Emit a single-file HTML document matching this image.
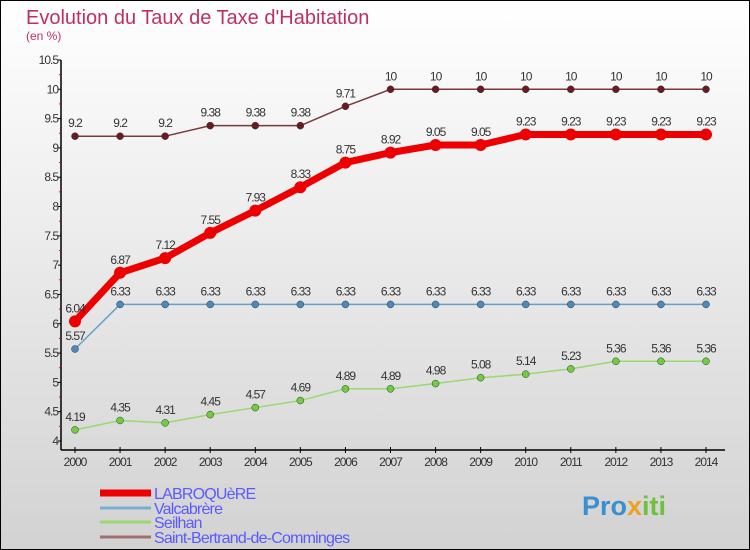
<!DOCTYPE html>
<html><head><meta charset="utf-8"><style>
body{margin:0}
svg{display:block;font-family:"Liberation Sans",sans-serif}
</style></head><body>
<svg id="c" width="750" height="550" xmlns="http://www.w3.org/2000/svg">
<defs><linearGradient id="bg" x1="0" y1="0" x2="0" y2="1"><stop offset="0" stop-color="#ffffff"/><stop offset="1" stop-color="#d2d2d2"/></linearGradient></defs>
<rect x="0.5" y="0.5" width="749" height="549" fill="url(#bg)" stroke="#000"/>
<text x="26" y="24" font-size="20" fill="#c0305e">Evolution du Taux de Taxe d'Habitation</text>
<text x="26" y="40" font-size="12" fill="#c0305e">(en %)</text>
<g id="axes"></g><g id="series"></g><g id="legend"></g>
<text x="582" y="515" font-size="27" font-weight="bold" fill="#3a8fd0">Pro<tspan fill="#f0a020">x</tspan><tspan fill="#70c040">iti</tspan></text>
</svg>
<script>
const years=[2000,2001,2002,2003,2004,2005,2006,2007,2008,2009,2010,2011,2012,2013,2014];
const yTicks=[4,4.5,5,5.5,6,6.5,7,7.5,8,8.5,9,9.5,10,10.5];
const labroquere=[6.04,6.87,7.12,7.55,7.93,8.33,8.75,8.92,9.05,9.05,9.23,9.23,9.23,9.23,9.23];
const valcabrere=[5.57,6.33,6.33,6.33,6.33,6.33,6.33,6.33,6.33,6.33,6.33,6.33,6.33,6.33,6.33];
const seilhan=[4.19,4.35,4.31,4.45,4.57,4.69,4.89,4.89,4.98,5.08,5.14,5.23,5.36,5.36,5.36];
const saintBertrand=[9.2,9.2,9.2,9.38,9.38,9.38,9.71,10,10,10,10,10,10,10,10];
const seriesNames=["LABROQUèRE","Valcabrère","Seilhan","Saint-Bertrand-de-Comminges"];
const NS="http://www.w3.org/2000/svg";
const X=i=>75+i*(706-75)/14;
const Y=v=>441-(v-4)*(441-60)/6.5;
function mk(p,t,a){const e=document.createElementNS(NS,t);for(const k in a)e.setAttribute(k,a[k]);p.appendChild(e);return e;}
const ax=document.getElementById('axes');
let l=mk(ax,'line',{x1:61,y1:60,x2:61,y2:450,stroke:'#000','stroke-width':1.5});

l=mk(ax,'line',{x1:61,y1:450,x2:725,y2:450,stroke:'#000','stroke-width':1.5});

yTicks.forEach((v,i)=>{const y=Y(v);mk(ax,'line',{x1:58,y1:y,x2:61,y2:y,stroke:'#000'});
 const t=mk(ax,'text',{x:58,y:y+4,'font-size':12,'text-anchor':'end',fill:'#333','letter-spacing':-1});t.textContent=v;
 
 if(i<yTicks.length-1){const m=Y(v+0.25);mk(ax,'line',{x1:59,y1:m,x2:61,y2:m,stroke:'#e00'});}});
years.forEach((yr,i)=>{const x=X(i);mk(ax,'line',{x1:x,y1:447,x2:x,y2:453,stroke:'#000'});
 const t=mk(ax,'text',{x:x,y:466,'font-size':12,'text-anchor':'middle',fill:'#333','letter-spacing':-1});t.textContent=yr;
 });
const sg=document.getElementById('series');
const defs=[[saintBertrand,'#7a3a3a','#6a1a20',1.5,3.5,'saint-bertrand'],[valcabrere,'#6a9ec0','#4a8ac0',1.5,3.5,'valcabrere'],[seilhan,'#9ad870','#70cc40',1.5,3.5,'seilhan'],[labroquere,'#ee0000','#ee0000',7,6,'labroquere']];
defs.forEach(([d,lc,pc,w,r,n])=>{
 const g=mk(sg,'g',{});
 const p=mk(g,'polyline',{points:d.map((v,i)=>X(i)+','+Y(v)).join(' '),fill:'none',stroke:lc,'stroke-width':w,'stroke-linejoin':'round'});
 
 d.forEach((v,i)=>{const c=mk(g,'circle',{cx:X(i),cy:Y(v),r:r,fill:pc,stroke:w>3?'none':'#333','stroke-width':0.5});
  
  const t=mk(g,'text',{x:X(i),y:Y(v)-9,'font-size':12,'text-anchor':'middle',fill:'#333','letter-spacing':-1});t.textContent=v;
  });
});
const lg=document.getElementById('legend');
const lcols=['#ee0000','#7aaed0','#9ad870','#a07070'],lw=[7,3,3,3],ly=[493,508,522,537];
seriesNames.forEach((s,i)=>{const g=mk(lg,'g',{});
 mk(g,'line',{x1:100,y1:ly[i],x2:151,y2:ly[i],stroke:lcols[i],'stroke-width':lw[i]});
 const t=mk(g,'text',{x:154,y:ly[i]+6,'font-size':16,fill:'#5a5aff','letter-spacing':-0.8});t.textContent=s;});
</script>
</body></html>
